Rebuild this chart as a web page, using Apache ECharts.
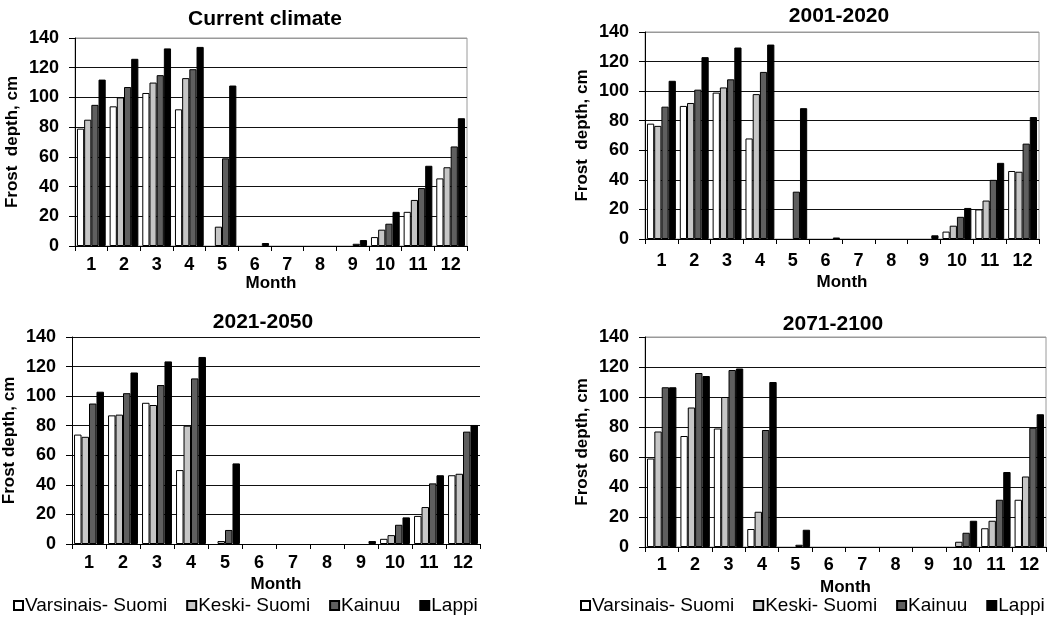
<!DOCTYPE html>
<html>
<head>
<meta charset="utf-8">
<script src="https://cdn.jsdelivr.net/npm/echarts@6/dist/echarts.min.js"></script>
<style>
html,body{margin:0;padding:0;background:#fff;}
#chart{width:1059px;height:619px;}
</style>
</head>
<body>
<div id="chart"></div>
<script>
// ---- data ----
const months = ['1','2','3','4','5','6','7','8','9','10','11','12'];
const regions = ['Varsinais- Suomi','Keski- Suomi','Kainuu','Lappi'];
const yTicks = [0, 20, 40, 60, 80, 100, 120, 140];
const panelTitles = ['Current climate','2001-2020','2021-2050','2071-2100'];

const currentVarsinais = [79, 94, 103, 92, 0, 0, 0, 0, 0, 6, 23, 45.5];
const currentKeski     = [85, 100, 110, 113, 13, 0, 0, 0, 0, 11, 31, 53];
const currentKainuu    = [95, 107, 115, 119, 59, 0, 0, 0, 1.5, 15, 39, 67];
const currentLappi     = [112, 126, 133, 134, 108, 2, 0, 0, 4, 23, 54, 86];

const p2001Varsinais = [78, 90, 99, 68, 0, 0, 0, 0, 0, 5, 20, 46];
const p2001Keski     = [76.5, 92, 102.5, 98, 0, 0, 0, 0, 0, 9, 26, 45.5];
const p2001Kainuu    = [89.5, 101, 108, 113, 32, 0, 0, 0, 0, 15, 40, 64.5];
const p2001Lappi     = [107, 123, 129.5, 131.5, 88.5, 1, 0, 0, 2.5, 21, 51.5, 82.5];

const p2021Varsinais = [74, 87, 95.5, 50, 0, 0, 0, 0, 0, 3.5, 19, 46.5];
const p2021Keski     = [72.5, 87.5, 94, 80, 2, 0, 0, 0, 0, 6, 25, 47.5];
const p2021Kainuu    = [95, 102, 107.5, 112, 9.5, 0, 0, 0, 0, 13, 41, 76];
const p2021Lappi     = [103, 116, 123.5, 126.5, 54.5, 0, 0, 0, 2, 18, 46.5, 80.5];

const p2071Varsinais = [59, 74, 79, 12, 0, 0, 0, 0, 0, 0, 12.5, 31.5];
const p2071Keski     = [77, 93, 100, 23.5, 0, 0, 0, 0, 0, 3.5, 17.5, 47];
const p2071Kainuu    = [106.5, 116, 118, 78, 1.5, 0, 0, 0, 0, 9.5, 31.5, 79.5];
const p2071Lappi     = [106.5, 114, 119, 110, 11.5, 0, 0, 0, 0, 17.5, 50, 88.5];

const panelData = [
  [currentVarsinais, currentKeski, currentKainuu, currentLappi],
  [p2001Varsinais, p2001Keski, p2001Kainuu, p2001Lappi],
  [p2021Varsinais, p2021Keski, p2021Kainuu, p2021Lappi],
  [p2071Varsinais, p2071Keski, p2071Kainuu, p2071Lappi]
];
const yNames = ['Frost  depth, cm','Frost  depth, cm','Frost depth, cm','Frost depth, cm'];

// ---- layout / style ----
const FONT = '"Liberation Sans", Arial, sans-serif';
const fills = ['#ffffff','#c6c6c6','#5f5f5f','#000000'];
const grids = [
  {left: 75, top: 38, width: 392, height: 208, border: true},
  {left: 645, top: 32, width: 394, height: 207, border: true},
  {left: 70, top: 337, width: 410, height: 207, border: false},
  {left: 645, top: 337, width: 401, height: 210, border: true}
];
const titlePos = [
  {x: 260, top: 4}, {x: 834, top: 1}, {x: 258, top: 307}, {x: 828, top: 309}
];
const xLabelMargin = [10, 13, 10, 9];
const xNameGap = [29, 35, 32, 32];

const option = {
  backgroundColor: '#fff',
  animation: false,
  title: panelTitles.map((t, i) => ({
    text: t, left: titlePos[i].x, top: titlePos[i].top, textAlign: 'center',
    textStyle: {fontFamily: FONT, fontWeight: 'bold', fontSize: 21, color: '#000'}
  })),
  legend: [
    {left: 13, top: 596},
    {left: 580, top: 596}
  ].map(p => ({
    left: p.left, top: p.top, padding: 0, data: regions, icon: 'rect',
    itemWidth: 9, itemHeight: 9, itemGap: 19,
    textStyle: {fontFamily: FONT, fontSize: 19, color: '#000', padding: [0, 0, 0, -3]}
  })),
  grid: grids.map(g => ({
    left: g.left, top: g.top, width: g.width, height: g.height,
    show: g.border, borderColor: '#9a9a9a', borderWidth: 1
  })),
  xAxis: grids.map((g, i) => ({
    type: 'category', gridIndex: i, data: months, boundaryGap: true,
    name: 'Month', nameLocation: 'middle', nameGap: xNameGap[i],
    nameTextStyle: {fontFamily: FONT, fontWeight: 'bold', fontSize: 17, color: '#000'},
    axisLine: {show: true, lineStyle: {color: '#000', width: 1}},
    axisTick: {show: true, length: 5, alignWithLabel: false, lineStyle: {color: '#000'}},
    axisLabel: {fontFamily: FONT, fontWeight: 'bold', fontSize: 18, color: '#000', margin: xLabelMargin[i]},
    splitLine: {show: false}
  })),
  yAxis: grids.map((g, i) => ({
    type: 'value', gridIndex: i, min: yTicks[0], max: yTicks[yTicks.length - 1], interval: yTicks[1] - yTicks[0],
    name: yNames[i], nameLocation: 'middle', nameGap: 54, nameRotate: 90,
    nameTextStyle: {fontFamily: FONT, fontWeight: 'bold', fontSize: 17, color: '#000'},
    axisLine: {show: true, lineStyle: {color: '#000', width: 1}},
    axisTick: {show: true, length: 6, lineStyle: {color: '#000'}},
    axisLabel: {fontFamily: FONT, fontWeight: 'bold', fontSize: 18, color: '#000', margin: 16},
    splitLine: {show: true, lineStyle: {color: g.border ? ['#111','#111','#111','#111','#111','#111','#111','#999'] : '#111', width: 1}}
  })),
  series: []
};

panelData.forEach((arrs, p) => {
  arrs.forEach((vals, k) => {
    option.series.push({
      type: 'bar', name: regions[k], xAxisIndex: p, yAxisIndex: p,
      // zero-depth months are drawn as no bar (as in the reference)
      data: vals.map(v => (v === 0 ? null : v)),
      barGap: '0%', barCategoryGap: '12%',
      itemStyle: {color: fills[k], borderColor: '#000', borderWidth: 1},
      emphasis: {disabled: true}
    });
  });
});

const chart = echarts.init(document.getElementById('chart'), null, {renderer: 'canvas'});
chart.setOption(option);
</script>
</body>
</html>
